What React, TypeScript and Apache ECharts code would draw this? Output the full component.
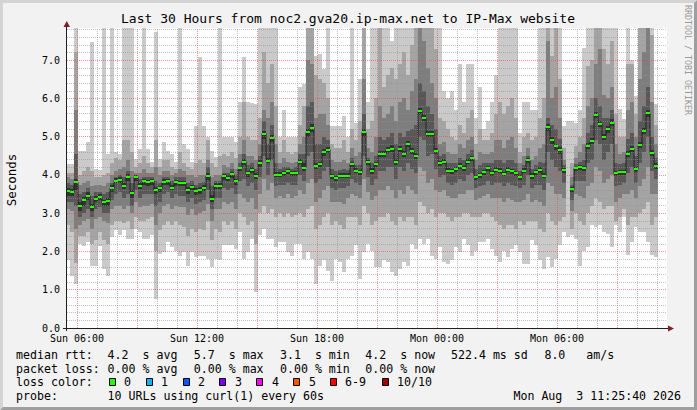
import React, { useEffect, useRef } from "react";
import * as echarts from "echarts";

const MONO = "'DejaVu Sans Mono', 'Liberation Mono', monospace";

const TITLE = "Last 30 Hours from noc2.gva20.ip-max.net to IP-Max website";
const X_TICK_HOURS = [6, 12, 18, 24, 30];
const X_TICK_LABELS = ["Sun 06:00", "Sun 12:00", "Sun 18:00", "Mon 00:00", "Mon 06:00"];
const X_MIN = 5.5; // hours since Sun 00:00
const X_MAX = 35.5;
const FIRST_COLUMN = 5.45; // start of first 12-minute column (hours)
const STEP = 0.2; // 12 minutes
const Y_MAX = 7.84;

// median RTT (s), one per 12-minute column
const med = [
  3.57, 3.55, 3.81, 3.2, 3.34, 3.46, 3.15, 3.38, 3.42, 3.28,
  3.31, 3.65, 3.85, 3.88, 3.72, 3.94, 3.52, 3.94, 3.72, 3.83,
  3.81, 3.83, 3.6, 3.65, 3.82, 3.83, 3.67, 3.81, 3.78, 3.78,
  3.6, 3.68, 3.57, 3.6, 3.67, 3.97, 3.38, 3.72, 3.72, 3.96,
  3.93, 4.02, 3.83, 4.17, 4.35, 4.04, 4.14, 3.98, 4.32, 5.08,
  4.37, 4.97, 4.01, 4.01, 4.04, 4.09, 4.04, 4.04, 4.35, 4.19,
  5.11, 5.23, 4.24, 4.28, 4.6, 4.66, 3.96, 3.91, 3.98, 3.98,
  3.98, 4.28, 4.11, 4.07, 5.11, 4.33, 4.1, 4.28, 4.54, 4.54,
  4.66, 4.69, 4.33, 4.67, 4.54, 4.8, 4.63, 4.5, 5.67, 5.48,
  5.06, 5.08, 4.63, 4.3, 4.35, 4.11, 4.09, 4.15, 4.23, 4.17,
  4.35, 4.43, 3.94, 3.99, 4.07, 4.17, 4.04, 4.14, 4.11, 4.02,
  4.14, 4.09, 4.04, 3.94, 4.11, 4.38, 3.97, 4.07, 4.12, 3.98,
  5.24, 4.9, 4.75, 4.64, 4.12, null, 3.62, 4.17, 4.2, 4.17,
  4.75, 4.88, 5.56, 5.34, 4.98, 5.19, 5.37, 4.04, 4.07, 4.07,
  4.54, 4.67, 4.15, 4.77, 5.14, 5.61, 4.57, 4.23,
];

// sorted pings per column: p10 = slowest ... p1 = fastest
const p10 = [
  4.29, 4.29, 7.84, 4.63, 4.63, 4.85, 7.48, 4.16, 4.12, 7.84,
  4.55, 7.84, 4.59, 4.55, 7.84, 7.84, 7.84, 4.42, 4.68, 7.84,
  4.68, 4.33, 7.74, 4.42, 4.85, 4.63, 4.55, 4.33, 7.84, 4.81,
  4.68, 4.33, 5.29, 7.07, 5.29, 4.98, 4.63, 4.46, 7.84, 5.0,
  5.0, 5.0, 4.85, 5.9, 7.07, 5.9, 5.88, 5.85, 7.84, 7.84,
  7.84, 7.84, 7.84, 5.0, 5.7, 5.0, 5.0, 5.0, 6.29, 6.37,
  7.84, 7.84, 7.12, 7.16, 6.77, 7.84, 5.29, 5.29, 5.29, 5.55,
  5.0, 7.84, 5.37, 6.5, 7.84, 5.9, 7.84, 7.84, 7.84, 7.84,
  7.84, 7.5, 7.84, 7.84, 7.84, 7.84, 7.84, 7.84, 7.84, 7.84,
  7.84, 7.84, 7.84, 7.84, 6.2, 6.0, 6.2, 5.7, 6.9, 5.9,
  6.9, 6.9, 5.5, 6.3, 5.2, 5.4, 5.9, 6.6, 7.84, 7.84,
  7.84, 7.84, 7.84, 5.1, 5.9, 5.9, 5.7, 5.7, 7.84, 7.84,
  7.84, 7.84, 7.84, 7.84, 5.29, 5.42, 5.42, 5.37, 5.7, 7.33,
  7.84, 7.84, 7.84, 7.84, 7.84, 7.84, 7.84, 7.84, 5.72, 5.46,
  7.84, 7.0, 6.07, 7.84, 7.84, 7.84, 7.84, 5.85,
];
const p9 = [
  4.05, 4.05, 7.22, 4.0, 4.1, 4.2, 4.1, 3.95, 3.95, 4.0,
  4.05, 4.3, 4.45, 4.4, 4.9, 4.9, 4.6, 4.2, 4.3, 4.5,
  4.3, 4.2, 4.9, 4.2, 4.4, 4.4, 4.2, 4.15, 4.6, 4.3,
  4.2, 4.15, 4.3, 4.4, 4.3, 4.9, 4.3, 4.2, 4.5, 4.55,
  4.5, 4.6, 4.45, 5.0, 5.9, 5.0, 4.9, 4.9, 5.5, 7.2,
  6.4, 6.9, 5.8, 4.6, 4.9, 4.6, 4.55, 4.6, 5.3, 5.8,
  7.84, 7.84, 6.6, 6.5, 6.4, 6.0, 4.8, 4.7, 4.7, 4.9,
  4.6, 5.2, 4.9, 5.4, 7.84, 5.2, 5.4, 6.0, 7.84, 6.3,
  6.6, 6.8, 6.5, 6.9, 7.2, 6.6, 7.4, 7.84, 7.84, 7.84,
  7.84, 7.84, 7.3, 5.5, 5.4, 5.2, 5.0, 4.9, 5.3, 5.1,
  5.5, 5.7, 4.8, 5.2, 4.9, 4.9, 5.1, 5.6, 5.9, 5.6,
  5.8, 6.0, 5.5, 4.6, 5.0, 5.1, 4.9, 5.0, 5.5, 6.0,
  7.84, 7.1, 7.84, 6.5, 4.7, 3.6, 4.3, 4.75, 5.0, 5.5,
  6.85, 7.0, 7.84, 7.84, 7.3, 6.9, 7.5, 5.6, 5.0, 5.0,
  6.9, 6.9, 5.6, 7.84, 7.84, 7.84, 7.65, 5.3,
];
const p8 = [
  3.95, 3.9, 5.7, 3.75, 3.8, 3.85, 3.7, 3.75, 3.75, 3.7,
  3.8, 4.0, 4.1, 4.15, 4.2, 4.4, 4.1, 4.05, 4.05, 4.15,
  4.05, 4.05, 4.2, 4.0, 4.1, 4.1, 4.0, 4.05, 4.15, 4.1,
  4.0, 4.0, 3.95, 4.0, 4.0, 4.4, 3.95, 4.0, 4.0, 4.25,
  4.2, 4.3, 4.15, 4.55, 4.9, 4.5, 4.5, 4.4, 4.8, 5.7,
  5.5, 5.9, 4.8, 4.3, 4.45, 4.35, 4.3, 4.35, 4.8, 5.0,
  7.0, 6.9, 5.5, 5.6, 5.6, 5.3, 4.4, 4.35, 4.35, 4.4,
  4.3, 4.7, 4.5, 4.6, 6.5, 4.7, 4.6, 5.0, 5.8, 5.5,
  5.6, 5.8, 5.4, 5.9, 6.0, 5.7, 6.2, 6.5, 7.84, 7.5,
  6.8, 6.4, 6.0, 4.8, 4.85, 4.6, 4.55, 4.55, 4.8, 4.7,
  4.9, 5.0, 4.4, 4.6, 4.55, 4.55, 4.6, 4.9, 4.9, 4.7,
  4.9, 5.0, 4.7, 4.3, 4.5, 4.7, 4.4, 4.5, 4.7, 4.8,
  7.5, 6.0, 6.3, 5.5, 4.4, 3.6, 3.95, 4.45, 4.6, 4.8,
  5.8, 6.0, 6.9, 7.3, 6.1, 6.0, 6.3, 4.8, 4.55, 4.6,
  5.7, 5.9, 5.0, 6.5, 7.2, 7.84, 5.9, 4.8,
];
const p7 = [
  3.8, 3.75, 4.55, 3.5, 3.55, 3.65, 3.45, 3.55, 3.55, 3.5,
  3.55, 3.8, 3.95, 4.0, 3.95, 4.1, 3.8, 4.0, 3.9, 3.95,
  3.95, 3.95, 3.85, 3.8, 3.95, 3.95, 3.85, 3.95, 3.95, 3.95,
  3.8, 3.85, 3.75, 3.78, 3.82, 4.2, 3.7, 3.85, 3.85, 4.05,
  4.05, 4.15, 4.0, 4.3, 4.55, 4.25, 4.3, 4.15, 4.5, 5.4,
  4.8, 5.3, 4.3, 4.15, 4.2, 4.2, 4.15, 4.2, 4.55, 4.55,
  5.8, 5.9, 4.8, 4.8, 5.0, 4.9, 4.15, 4.1, 4.12, 4.15,
  4.12, 4.45, 4.25, 4.25, 5.6, 4.45, 4.3, 4.5, 5.0, 4.9,
  5.0, 5.1, 4.8, 5.1, 5.0, 5.15, 5.2, 5.3, 6.4, 6.2,
  5.8, 5.6, 5.2, 4.5, 4.55, 4.3, 4.3, 4.3, 4.45, 4.4,
  4.55, 4.65, 4.15, 4.25, 4.3, 4.32, 4.3, 4.4, 4.4, 4.3,
  4.4, 4.4, 4.3, 4.1, 4.25, 4.5, 4.15, 4.25, 4.35, 4.3,
  5.5, 5.3, 5.2, 4.95, 4.25, 3.6, 3.75, 4.28, 4.35, 4.4,
  5.1, 5.3, 6.0, 5.8, 5.5, 5.5, 5.7, 4.3, 4.28, 4.3,
  4.95, 5.1, 4.5, 5.4, 5.8, 6.3, 5.0, 4.45,
];
const p6 = [
  3.65, 3.62, 3.9, 3.3, 3.42, 3.55, 3.25, 3.45, 3.5, 3.35,
  3.4, 3.75, 3.92, 3.95, 3.8, 4.02, 3.6, 4.0, 3.8, 3.9,
  3.88, 3.9, 3.68, 3.72, 3.9, 3.9, 3.75, 3.88, 3.85, 3.85,
  3.68, 3.75, 3.65, 3.68, 3.75, 4.05, 3.48, 3.8, 3.78, 4.02,
  4.0, 4.08, 3.9, 4.22, 4.42, 4.1, 4.2, 4.05, 4.4, 5.15,
  4.45, 5.05, 4.07, 4.07, 4.1, 4.15, 4.1, 4.1, 4.42, 4.3,
  5.2, 5.32, 4.3, 4.35, 4.68, 4.72, 4.02, 3.98, 4.04, 4.04,
  4.04, 4.35, 4.17, 4.13, 5.2, 4.4, 4.17, 4.35, 4.62, 4.62,
  4.74, 4.77, 4.42, 4.75, 4.62, 4.88, 4.7, 4.58, 5.75, 5.56,
  5.14, 5.16, 4.7, 4.37, 4.42, 4.18, 4.15, 4.22, 4.3, 4.24,
  4.42, 4.5, 4.0, 4.06, 4.14, 4.24, 4.1, 4.2, 4.18, 4.08,
  4.2, 4.16, 4.1, 4.0, 4.18, 4.45, 4.04, 4.14, 4.2, 4.05,
  5.32, 4.98, 4.82, 4.72, 4.18, 3.6, 3.68, 4.22, 4.26, 4.24,
  4.83, 4.96, 5.64, 5.42, 5.06, 5.27, 5.45, 4.1, 4.13, 4.13,
  4.62, 4.75, 4.22, 4.85, 5.22, 5.7, 4.65, 4.3,
];
const p5 = [
  3.45, 3.45, 3.6, 3.05, 3.2, 3.35, 3.05, 3.3, 3.35, 3.2,
  3.2, 3.55, 3.78, 3.8, 3.62, 3.85, 3.4, 3.85, 3.62, 3.75,
  3.72, 3.75, 3.5, 3.55, 3.75, 3.75, 3.6, 3.72, 3.7, 3.7,
  3.5, 3.6, 3.48, 3.5, 3.58, 3.88, 3.3, 3.62, 3.62, 3.88,
  3.85, 3.92, 3.75, 4.1, 4.25, 3.95, 4.05, 3.9, 4.22, 4.95,
  4.3, 4.85, 3.95, 3.95, 3.98, 4.02, 3.98, 3.98, 4.28, 4.1,
  5.0, 5.12, 4.15, 4.2, 4.5, 4.58, 3.9, 3.85, 3.92, 3.92,
  3.92, 4.2, 4.05, 4.0, 5.0, 4.25, 4.03, 4.2, 4.46, 4.46,
  4.58, 4.61, 4.25, 4.6, 4.46, 4.72, 4.55, 4.42, 5.58, 5.4,
  4.98, 5.0, 4.56, 4.23, 4.28, 4.04, 4.02, 4.08, 4.16, 4.1,
  4.28, 4.36, 3.88, 3.92, 4.0, 4.1, 3.98, 4.07, 4.04, 3.96,
  4.08, 4.02, 3.98, 3.88, 4.04, 4.3, 3.9, 4.0, 4.05, 3.92,
  5.14, 4.82, 4.66, 4.56, 4.04, 3.6, 3.55, 4.1, 4.12, 4.1,
  4.67, 4.8, 5.48, 5.26, 4.9, 5.1, 5.29, 3.98, 4.0, 4.0,
  4.46, 4.6, 4.08, 4.7, 5.06, 5.52, 4.49, 4.16,
];
const p4 = [
  3.3, 3.3, 3.2, 2.9, 3.0, 3.1, 2.9, 3.1, 3.15, 3.0,
  3.0, 3.35, 3.5, 3.55, 3.4, 3.5, 3.2, 3.6, 3.4, 3.5,
  3.5, 3.5, 3.2, 3.3, 3.5, 3.55, 3.4, 3.5, 3.45, 3.45,
  3.3, 3.4, 3.25, 3.3, 3.35, 3.6, 3.1, 3.4, 3.4, 3.65,
  3.6, 3.65, 3.5, 3.85, 3.9, 3.7, 3.8, 3.6, 3.95, 4.5,
  4.0, 4.4, 3.7, 3.75, 3.75, 3.8, 3.75, 3.75, 4.0, 3.85,
  4.5, 4.6, 3.8, 3.9, 4.1, 4.2, 3.65, 3.6, 3.65, 3.65,
  3.7, 3.9, 3.8, 3.75, 4.5, 3.95, 3.75, 3.9, 4.1, 4.1,
  4.2, 4.2, 3.9, 4.2, 4.1, 4.3, 4.15, 4.05, 5.0, 4.9,
  4.5, 4.55, 4.15, 3.95, 4.0, 3.8, 3.75, 3.8, 3.9, 3.85,
  4.0, 4.05, 3.65, 3.7, 3.75, 3.85, 3.75, 3.8, 3.8, 3.7,
  3.8, 3.75, 3.7, 3.65, 3.75, 4.0, 3.65, 3.75, 3.75, 3.6,
  4.6, 4.4, 4.2, 4.1, 3.8, 3.6, 3.35, 3.85, 3.85, 3.85,
  4.3, 4.4, 4.9, 4.8, 4.4, 4.6, 4.8, 3.7, 3.75, 3.8,
  4.05, 4.2, 3.8, 4.3, 4.6, 5.0, 4.1, 3.9,
];
const p3 = [
  3.1, 3.05, 2.6, 2.7, 2.8, 2.85, 2.6, 2.85, 2.9, 2.8,
  2.75, 3.1, 3.2, 3.2, 3.1, 3.2, 3.0, 3.3, 3.15, 3.2,
  3.2, 3.25, 2.7, 3.0, 3.2, 3.25, 3.1, 3.2, 3.15, 3.15,
  2.95, 3.1, 2.95, 3.0, 3.05, 3.25, 2.8, 3.1, 3.1, 3.3,
  3.25, 3.3, 3.1, 3.5, 3.4, 3.3, 3.4, 3.1, 3.5, 3.9,
  3.6, 3.8, 3.4, 3.45, 3.4, 3.5, 3.4, 3.45, 3.6, 3.5,
  3.8, 3.9, 3.3, 3.4, 3.6, 3.7, 3.3, 3.3, 3.3, 3.25,
  3.4, 3.5, 3.45, 3.4, 3.9, 3.55, 3.35, 3.45, 3.6, 3.6,
  3.7, 3.6, 3.4, 3.6, 3.5, 3.7, 3.6, 3.5, 4.2, 4.1,
  3.8, 3.9, 3.6, 3.55, 3.6, 3.45, 3.4, 3.4, 3.5, 3.5,
  3.6, 3.6, 3.35, 3.4, 3.45, 3.5, 3.4, 3.4, 3.4, 3.3,
  3.4, 3.35, 3.3, 3.3, 3.35, 3.5, 3.3, 3.35, 3.3, 3.2,
  3.8, 3.7, 3.5, 3.5, 3.4, 3.6, 3.05, 3.5, 3.45, 3.4,
  3.7, 3.8, 4.2, 4.1, 3.8, 3.9, 4.0, 3.3, 3.4, 3.5,
  3.5, 3.6, 3.4, 3.7, 3.9, 4.2, 3.5, 3.5,
];
const p2 = [
  2.7, 2.5, 1.7, 2.4, 2.4, 2.5, 2.2, 2.3, 2.5, 2.3,
  2.2, 2.7, 2.8, 2.8, 2.75, 2.8, 2.6, 2.9, 2.8, 2.8,
  2.85, 2.9, 2.0, 2.55, 2.7, 2.8, 2.7, 2.8, 2.7, 2.65,
  2.4, 2.6, 2.5, 2.6, 2.55, 2.8, 2.3, 2.6, 2.5, 2.8,
  2.7, 2.8, 2.6, 3.0, 2.9, 2.7, 2.8, 2.2, 3.0, 3.2,
  3.0, 3.1, 2.9, 3.0, 2.9, 3.0, 2.9, 2.95, 3.0, 2.9,
  3.1, 3.2, 2.6, 2.7, 2.9, 3.0, 2.7, 2.8, 2.7, 2.6,
  2.9, 2.9, 2.9, 2.7, 3.2, 3.0, 2.7, 2.8, 2.9, 2.9,
  3.0, 2.8, 2.7, 2.9, 2.8, 2.9, 2.9, 2.7, 3.3, 3.2,
  3.0, 3.1, 2.9, 3.0, 3.0, 2.9, 2.8, 2.9, 2.9, 3.0,
  3.0, 2.9, 2.9, 2.9, 3.0, 3.0, 2.9, 2.8, 2.7, 2.6,
  2.7, 2.7, 2.6, 2.8, 2.7, 2.8, 2.8, 2.8, 2.6, 2.5,
  3.0, 2.8, 2.7, 2.8, 2.9, 3.6, 2.6, 3.0, 2.8, 2.7,
  3.0, 3.2, 3.4, 3.3, 3.1, 3.2, 3.2, 2.8, 2.9, 3.1,
  2.7, 2.9, 2.9, 3.0, 3.1, 3.3, 2.7, 2.9,
];
const p1 = [
  1.77, 1.37, 1.16, 2.2, 2.15, 2.24, 1.63, 1.63, 2.15, 1.55,
  1.37, 2.37, 2.55, 2.42, 2.55, 2.33, 2.33, 2.6, 2.5, 2.33,
  2.33, 2.42, 0.77, 1.94, 1.98, 2.24, 2.11, 2.02, 1.89, 1.98,
  1.63, 1.98, 1.85, 1.89, 1.89, 1.8, 1.59, 1.8, 1.77, 2.16,
  2.16, 2.16, 2.07, 2.5, 1.81, 1.98, 2.33, 0.94, 2.42, 2.59,
  2.33, 2.33, 2.11, 2.24, 2.24, 1.98, 1.89, 2.2, 2.2, 1.81,
  1.98, 1.81, 1.16, 1.63, 1.77, 1.5, 1.24, 1.81, 1.72, 1.46,
  1.81, 1.89, 2.16, 1.29, 1.98, 2.2, 2.02, 1.59, 1.59, 1.77,
  1.72, 1.46, 1.37, 1.55, 1.72, 1.63, 2.2, 2.07, 2.33, 2.2,
  2.33, 1.89, 1.81, 2.11, 1.72, 1.68, 1.77, 2.11, 1.98, 2.33,
  2.16, 1.89, 2.02, 2.24, 2.24, 2.33, 2.07, 1.89, 1.72, 2.02,
  1.85, 2.07, 2.16, 1.98, 1.68, 1.68, 2.29, 2.16, 1.77, 1.55,
  1.85, 1.59, 1.81, 2.16, 2.5, 2.37, 2.42, 2.33, 1.63, 2.02,
  2.11, 2.68, 2.63, 2.68, 2.5, 2.46, 2.11, 2.68, 2.5, 2.9,
  1.9, 2.24, 2.63, 2.5, 2.5, 2.24, 1.9, 1.85,
];

const SMOKE_GRAYS = ["#cacaca", "#a4a4a4", "#7e7e7e", "#585858", "#323232"];
const MEDIAN_COLOR = "#26ff00";

const LOSS_LABELS = ["0", "1", "2", "3", "4", "5", "6-9", "10/10"];
const LOSS_COLORS = ["#26ff00", "#00b8ff", "#0059ff", "#7e00ff", "#ff00ff", "#ff5500", "#ff0000", "#a10000"];

const RTT_ROW_LABEL = "median rtt:";
const RTT_ITEMS = ["4.2  s avg", "5.7  s max", "3.1  s min", "4.2  s now", "522.4 ms sd", "8.0   am/s"];
const LOSS_ROW_LABEL = "packet loss:";
const LOSS_ITEMS = ["0.00 % avg", "0.00 % max", "0.00 % min", "0.00 % now"];
const COLOR_ROW_LABEL = "loss color:";
const PROBE_ROW_LABEL = "probe:";
const PROBE_TEXT = "10 URLs using curl(1) every 60s";
const DATE_TEXT = "Mon Aug  3 11:25:40 2026";
const Y_TITLE = "Seconds";
const WATERMARK = "RRDTOOL / TOBI OETIKER";

// layout (pixels)
const ITEM_X = [107.6, 193.8, 280, 365.3, 451, 544.4];
const BOX_X = [109.5, 146.5, 183.5, 219.5, 256.5, 293.5, 330.5, 382.5];
const BOX_LABEL_X = [124, 161, 198, 235, 272, 309, 345, 397];
const ROW_Y = [354.5, 368.5, 382, 396];
const LEGEND_FONT = 11.6;

export default function App() {
  const ref = useRef<HTMLDivElement>(null);

  useEffect(() => {
    document.body.style.margin = "0";
    const chart = echarts.init(ref.current!, null, { renderer: "svg" });

    const smokeData = med.map((_, k) => [
      FIRST_COLUMN + STEP * k,
      FIRST_COLUMN + STEP * (k + 1),
      p1[k], p2[k], p3[k], p4[k], p5[k], p6[k], p7[k], p8[k], p9[k], p10[k],
    ]);
    const greenData: number[][] = [];
    med.forEach((m, k) => {
      if (m !== null) greenData.push([FIRST_COLUMN + STEP * k, FIRST_COLUMN + STEP * (k + 1), m]);
    });
    const lineData = med.map((m, k) => [FIRST_COLUMN + STEP * (k + 0.5), m === null ? "-" : m]);

    // grid lines (drawn on top of the smoke, as rrdtool does)
    const minorStyle = { color: "rgba(143,143,143,0.55)", width: 1, type: [1, 1] };
    const majorStyle = { color: "rgba(222,79,79,0.6)", width: 1, type: [1, 1] };
    const gridLines: any[] = [];
    for (let h = 6; h <= 35; h++) {
      gridLines.push({ xAxis: h, lineStyle: h % 3 === 0 ? majorStyle : minorStyle });
    }
    for (let j = 1; j <= 39; j++) {
      gridLines.push({ yAxis: +(j * 0.2).toFixed(1), lineStyle: j % 5 === 0 ? majorStyle : minorStyle });
    }

    const text = (x: number, y: number, t: string, extra: any = {}) => ({
      type: "text",
      x,
      y,
      silent: true,
      style: {
        text: t,
        fontFamily: MONO,
        fontSize: LEGEND_FONT,
        fill: "#000",
        align: "left",
        verticalAlign: "middle",
        ...extra,
      },
    });

    const graphics: any[] = [
      // 3D border
      { type: "polygon", silent: true, shape: { points: [[0, 0], [697, 0], [694, 3], [3, 3], [3, 407], [0, 410]] }, style: { fill: "#d4d4d4" } },
      { type: "polygon", silent: true, shape: { points: [[697, 0], [697, 410], [0, 410], [3, 407], [694, 407], [694, 3]] }, style: { fill: "#9e9e9e" } },
      // axes
      { type: "line", silent: true, shape: { x1: 66.5, y1: 331, x2: 66.5, y2: 24 }, style: { stroke: "#1f1f1f", lineWidth: 1 }, z: 50 },
      { type: "line", silent: true, shape: { x1: 63, y1: 328.5, x2: 670, y2: 328.5 }, style: { stroke: "#1f1f1f", lineWidth: 1 }, z: 50 },
      { type: "polygon", silent: true, shape: { points: [[63.5, 27], [70, 27], [66.75, 21]] }, style: { fill: "#801f1f" }, z: 50 },
      { type: "polygon", silent: true, shape: { points: [[668, 325.5], [668, 331.5], [674, 328.5]] }, style: { fill: "#801f1f" }, z: 50 },
      // title and side texts
      text(348, 18, TITLE, { fontSize: 13, align: "center" }),
      { ...text(0, 0, Y_TITLE, { fontSize: 12.5, align: "center" }), x: 11, y: 180, rotation: Math.PI / 2 },
      { ...text(0, 0, WATERMARK, { fontSize: 8.3, align: "center", fill: "#9a9a9a" }), x: 688, y: 60, rotation: -Math.PI / 2 },
      // legend rows
      text(16, ROW_Y[0], RTT_ROW_LABEL),
      ...RTT_ITEMS.map((t, i) => text(ITEM_X[i], ROW_Y[0], t)),
      text(16, ROW_Y[1], LOSS_ROW_LABEL),
      ...LOSS_ITEMS.map((t, i) => text(ITEM_X[i], ROW_Y[1], t)),
      text(16, ROW_Y[2], COLOR_ROW_LABEL),
      ...LOSS_COLORS.map((c, i) => ({
        type: "rect",
        silent: true,
        shape: { x: BOX_X[i], y: ROW_Y[2] - 3.5, width: 6, height: 7 },
        style: { fill: c, stroke: "#000", lineWidth: 1 },
      })),
      ...LOSS_LABELS.map((t, i) => text(BOX_LABEL_X[i], ROW_Y[2], t)),
      text(16, ROW_Y[3], PROBE_ROW_LABEL),
      text(ITEM_X[0], ROW_Y[3], PROBE_TEXT),
      text(681, ROW_Y[3], DATE_TEXT, { align: "right" }),
    ];

    chart.setOption({
      animation: false,
      backgroundColor: "#f2f2f2",
      grid: { left: 67, top: 28, width: 600, height: 300, show: true, backgroundColor: "#ffffff", borderWidth: 0 },
      xAxis: {
        type: "value",
        min: X_MIN,
        max: X_MAX,
        axisLine: { show: false },
        axisTick: { show: false },
        splitLine: { show: false },
        axisLabel: {
          customValues: X_TICK_HOURS,
          formatter: (v: number) => {
            const i = X_TICK_HOURS.findIndex((h) => Math.abs(h - v) < 1e-6);
            return i >= 0 ? X_TICK_LABELS[i] : "";
          },
          fontFamily: MONO,
          fontSize: 10,
          lineHeight: 10,
          color: "#000",
          margin: 5,
        },
      },
      yAxis: {
        type: "value",
        min: 0,
        max: Y_MAX,
        interval: 1,
        axisLine: { show: false },
        axisTick: { show: false },
        splitLine: { show: false },
        axisLabel: {
          showMaxLabel: false,
          formatter: (v: number) => (Math.abs(v - Math.round(v)) < 1e-6 ? v.toFixed(1) : ""),
          fontFamily: MONO,
          fontSize: 10,
          lineHeight: 10,
          color: "#000",
          margin: 7,
        },
      },
      series: [
        {
          type: "custom",
          name: "smoke",
          z: 2,
          clip: true,
          silent: true,
          encode: { x: [0, 1], y: [2, 11] },
          data: smokeData,
          renderItem: (params: any, api: any) => {
            const cs = params.coordSys;
            const x0 = api.value(0);
            const x1 = api.value(1);
            const children: any[] = [];
            for (let i = 0; i < 5; i++) {
              const lo = api.value(2 + i);
              const hi = Math.min(api.value(11 - i), Y_MAX);
              const a = api.coord([x0, lo]);
              const b = api.coord([x1, hi]);
              const left = Math.round(Math.max(a[0], cs.x));
              const right = Math.round(Math.min(b[0], cs.x + cs.width));
              const top = Math.round(Math.max(b[1], cs.y));
              const bottom = Math.round(a[1]);
              if (bottom - top <= 0 || right <= left) continue;
              children.push({
                type: "rect",
                shape: { x: left, y: top, width: right - left, height: bottom - top },
                style: { fill: SMOKE_GRAYS[i] },
              });
            }
            return { type: "group", children };
          },
        },
        {
          type: "line",
          name: "grid",
          z: 3,
          silent: true,
          data: [],
          markLine: {
            silent: true,
            symbol: ["none", "none"],
            label: { show: false },
            animation: false,
            data: gridLines,
          },
        },
        {
          type: "line",
          name: "median",
          z: 4,
          silent: true,
          step: "middle",
          showSymbol: false,
          symbol: "none",
          connectNulls: false,
          lineStyle: { color: "#202020", width: 1 },
          data: lineData,
        },
        {
          type: "custom",
          name: "median loss 0",
          z: 5,
          clip: true,
          silent: true,
          encode: { x: [0, 1], y: 2 },
          data: greenData,
          renderItem: (params: any, api: any) => {
            const cs = params.coordSys;
            const a = api.coord([api.value(0), api.value(2)]);
            const b = api.coord([api.value(1), api.value(2)]);
            const left = Math.round(Math.max(a[0], cs.x));
            const right = Math.round(b[0]);
            const y = Math.round(a[1]) - 1;
            return {
              type: "rect",
              shape: { x: left, y, width: right - left, height: 2 },
              style: { fill: MEDIAN_COLOR },
            };
          },
        },
      ],
      graphic: graphics,
    });

    return () => chart.dispose();
  }, []);

  return (
    <div style={{ position: "fixed", left: 0, top: 0, width: 697, height: 410 }}>
      <div ref={ref} style={{ width: 697, height: 410 }} />
    </div>
  );
}
